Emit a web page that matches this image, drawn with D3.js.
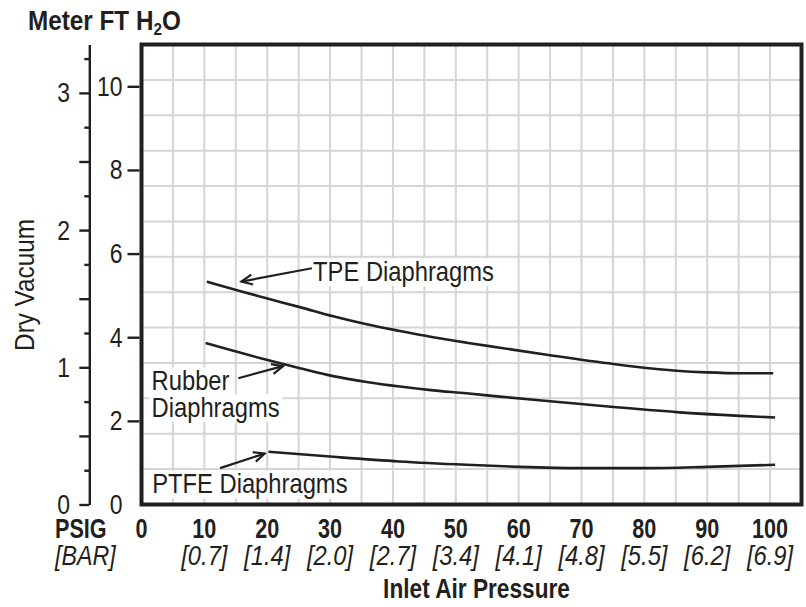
<!DOCTYPE html>
<html>
<head>
<meta charset="utf-8">
<script src="https://cdn.jsdelivr.net/npm/d3@7"></script>
<style>
  body { margin: 0; background: #fff; }
  svg { display: block; font-family: "Liberation Sans", Arial, sans-serif; }
</style>
</head>
<body>
<svg id="chart" width="806" height="607"></svg>
<script>
// inlet air pressure (psig) vs dry vacuum (ft H2O)
var tpePsig = [10.4, 19.9, 25.2, 30.5, 35.8, 41.1, 46.4, 51.7, 57, 65, 75.1, 85.1, 90, 95.2, 100.5];
var tpeFt = [5.33, 4.93, 4.72, 4.50, 4.31, 4.15, 4.00, 3.87, 3.75, 3.57, 3.36, 3.20, 3.16, 3.14, 3.14];

var rubberPsig = [10.2, 19.9, 25.2, 30.5, 35.8, 41.1, 46.4, 51.7, 57, 65, 75.1, 85.1, 95.2, 100.8];
var rubberFt = [3.86, 3.46, 3.26, 3.07, 2.93, 2.82, 2.73, 2.66, 2.58, 2.47, 2.33, 2.21, 2.12, 2.08];

var ptfePsig = [20.2, 30.5, 41, 51.7, 60, 70, 80, 90, 100.8];
var ptfeFt = [1.26, 1.14, 1.03, 0.95, 0.90, 0.87, 0.87, 0.90, 0.95];

var psigTicks = [0, 10, 20, 30, 40, 50, 60, 70, 80, 90, 100];
var barLabels = ["", "[0.7]", "[1.4]", "[2.0]", "[2.7]", "[3.4]", "[4.1]", "[4.8]", "[5.5]", "[6.2]", "[6.9]"];
var ftTicks = [2, 4, 6, 8, 10];
var meterTicks = [0, 1, 2, 3];

var ink = "#231f20";
var svg = d3.select("#chart");

var x = d3.scaleLinear().domain([0, 105]).range([141.5, 801.5]);
var y = d3.scaleLinear().domain([0, 11]).range([504.5, 44.5]);
// metres of water on the outer scale
var ym = d3.scaleLinear().domain([0, 11 / 3.281]).range([504.5, 44.5]);

// condensed look: regular sans squeezed horizontally
function label(parent, px, py, str, o) {
  o = o || {};
  return parent.append("text")
    .attr("transform", "translate(" + px + "," + py + ") scale(" + (o.sx || 0.86) + ",1)")
    .attr("text-anchor", o.anchor || "start")
    .attr("font-size", o.size || 27)
    .attr("font-weight", o.bold ? "bold" : "normal")
    .attr("font-style", o.italic ? "italic" : "normal")
    .attr("fill", ink)
    .text(str);
}

// grid
var grid = svg.append("g").attr("stroke", "#d5d5d5").attr("stroke-width", 2);
grid.selectAll(".v")
  .data(d3.range(5, 105, 5))
  .enter().append("line")
  .attr("x1", function (d) { return x(d); })
  .attr("x2", function (d) { return x(d); })
  .attr("y1", y(0)).attr("y2", y(11));
grid.selectAll(".h")
  .data(d3.range(1, 13).map(function (k) { return k * 11 / 13; }))
  .enter().append("line")
  .attr("y1", function (d) { return y(d); })
  .attr("y2", function (d) { return y(d); })
  .attr("x1", x(0)).attr("x2", x(105));

// curves
var line = d3.line()
  .x(function (d) { return x(d[0]); })
  .y(function (d) { return y(d[1]); })
  .curve(d3.curveMonotoneX);

var series = [
  d3.zip(tpePsig, tpeFt),
  d3.zip(rubberPsig, rubberFt),
  d3.zip(ptfePsig, ptfeFt)
];
svg.append("g").selectAll("path")
  .data(series)
  .enter().append("path")
  .attr("d", line)
  .attr("fill", "none")
  .attr("stroke", ink)
  .attr("stroke-width", 2.6)
  .attr("stroke-linecap", "butt");

// annotations
svg.append("defs").append("marker")
  .attr("id", "arr")
  .attr("viewBox", "-13 -7 15 14")
  .attr("refX", 0).attr("refY", 0)
  .attr("markerUnits", "userSpaceOnUse")
  .attr("markerWidth", 15).attr("markerHeight", 14)
  .attr("orient", "auto")
  .append("path")
  .attr("d", "M-11,-5 L0,0 L-11,5")
  .attr("fill", "none")
  .attr("stroke", ink)
  .attr("stroke-width", 2.2);

var notes = [
  { lines: ["TPE Diaphragms"], at: [27.3, 5.35], from: [27.1, 5.65], to: [15.9, 5.33] },
  { lines: ["Rubber", "Diaphragms"], at: [1.6, 2.74], from: [15.4, 3.02], to: [22.5, 3.31] },
  { lines: ["PTFE Diaphragms"], at: [1.7, 0.27], from: [12.5, 0.87], to: [19.6, 1.22] }
];
var ann = svg.append("g");
notes.forEach(function (n) {
  n.lines.forEach(function (s, i) {
    var t = label(ann, x(n.at[0]), y(n.at[1]) + i * 26.7, s, { sx: 0.88 });
    var b = t.node().getBBox();
    ann.insert("rect", function () { return t.node(); })
      .attr("transform", t.attr("transform"))
      .attr("x", b.x - 3).attr("y", b.y + 2)
      .attr("width", b.width + 6).attr("height", b.height - 2)
      .attr("fill", "#fff");
  });
  ann.append("line")
    .attr("x1", x(n.from[0])).attr("y1", y(n.from[1]))
    .attr("x2", x(n.to[0])).attr("y2", y(n.to[1]))
    .attr("stroke", ink).attr("stroke-width", 2.2)
    .attr("marker-end", "url(#arr)");
});

// frame
svg.append("rect")
  .attr("x", x(0)).attr("y", y(11))
  .attr("width", x(105) - x(0)).attr("height", y(0) - y(11))
  .attr("fill", "none").attr("stroke", ink).attr("stroke-width", 4);

// inner axis, ft H2O
var ftAxis = svg.append("g")
  .attr("transform", "translate(" + (x(0) - 2) + ",0)")
  .call(d3.axisLeft(y).tickValues(ftTicks).tickSize(12).tickFormat(""));
ftAxis.select(".domain").remove();
ftAxis.selectAll("line").attr("stroke", ink).attr("stroke-width", 2.4);
[0].concat(ftTicks).forEach(function (v) {
  label(svg, 122.5, y(v) + 9.5, v, { anchor: "end", sx: 0.82, size: 28 });
});

// outer axis, metres
var mAxis = svg.append("g").attr("transform", "translate(89.3,0)");
mAxis.call(d3.axisLeft(ym).tickValues(d3.range(0.25, 3.5, 0.5)).tickSize(5).tickSizeOuter(0).tickFormat(""));
mAxis.append("g")
  .call(d3.axisLeft(ym).tickValues(d3.range(0, 3.5, 0.5)).tickSize(10).tickFormat(""))
  .select(".domain").remove();
mAxis.selectAll("path, line").attr("stroke", ink).attr("stroke-width", 2.4);
meterTicks.forEach(function (v) {
  label(svg, 70, ym(v) + 9.5, v, { anchor: "end", sx: 0.82, size: 28 });
});

// x labels
psigTicks.forEach(function (v, i) {
  label(svg, x(v), 538, v, { anchor: "middle", bold: true, sx: 0.8, size: 27 });
  if (barLabels[i]) label(svg, x(v), 564.5, barLabels[i], { anchor: "middle", italic: true, sx: 0.88, size: 27 });
});
label(svg, 55, 538, "PSIG", { bold: true, sx: 0.8, size: 27 });
label(svg, 55, 564.5, "[BAR]", { italic: true, sx: 0.86, size: 27 });
label(svg, x(53.3), 598, "Inlet Air Pressure", { anchor: "middle", bold: true, sx: 0.84, size: 27 });

// y title
svg.append("text")
  .attr("transform", "translate(33.5,285) rotate(-90) scale(0.9,1)")
  .attr("text-anchor", "middle")
  .attr("font-size", 27)
  .attr("fill", ink)
  .text("Dry Vacuum");

// unit header
var head = label(svg, 28, 30, "Meter FT H", { bold: true, sx: 0.9, size: 27 });
head.append("tspan").attr("font-size", 17).attr("dy", 5).text("2");
head.append("tspan").attr("dy", -5).text("O");
</script>
</body>
</html>
